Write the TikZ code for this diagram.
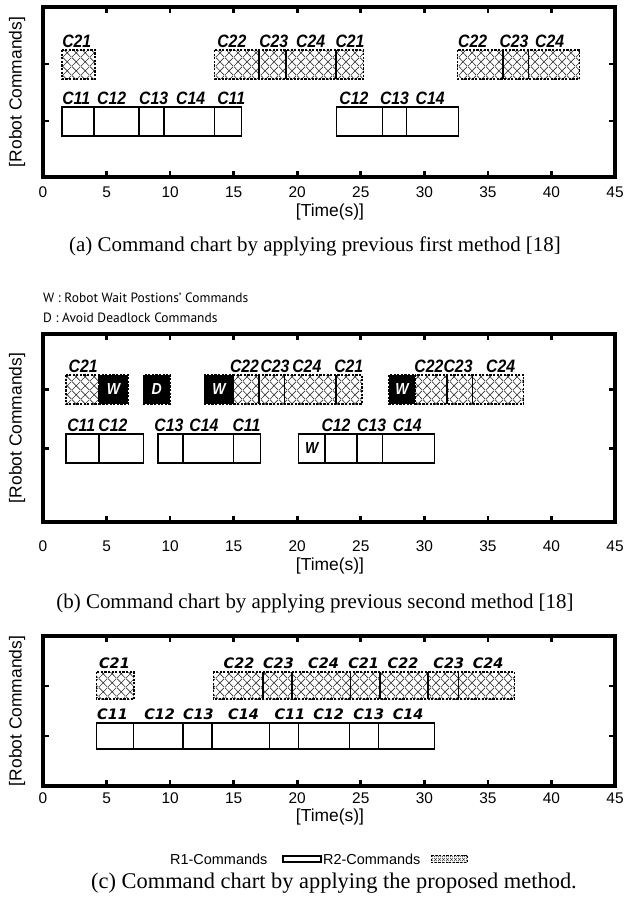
\documentclass[tikz,border=0pt]{standalone}
\usepackage{fontspec}
\setmainfont{Liberation Serif}
\setsansfont{Liberation Sans}
\newfontfamily\cmdfont[FakeStretch=0.88]{Liberation Sans}
\newfontfamily\newcmdfont{DejaVu Sans}
\newfontfamily\notefont{PT Sans}
\usepackage{tikz}
\usetikzlibrary{patterns}
% diagonal cross hatch of the R2 commands
\pgfdeclarepatternformonly{cmdhatch}{\pgfpointorigin}{\pgfqpoint{9bp}{9bp}}{\pgfqpoint{9bp}{9bp}}{%
  \pgfsetlinewidth{0.7bp}%
  \pgfpathmoveto{\pgfpointorigin}\pgfpathlineto{\pgfqpoint{9bp}{9bp}}%
  \pgfpathmoveto{\pgfqpoint{0bp}{9bp}}\pgfpathlineto{\pgfqpoint{9bp}{0bp}}%
  \pgfusepath{stroke}}
\pgfdeclarepatternformonly{smallhatch}{\pgfpointorigin}{\pgfqpoint{3.5bp}{3.5bp}}{\pgfqpoint{3.5bp}{3.5bp}}{%
  \pgfsetlinewidth{0.5bp}%
  \pgfpathmoveto{\pgfpointorigin}\pgfpathlineto{\pgfqpoint{3.5bp}{3.5bp}}%
  \pgfpathmoveto{\pgfqpoint{0bp}{3.5bp}}\pgfpathlineto{\pgfqpoint{3.5bp}{0bp}}%
  \pgfusepath{stroke}}
\tikzset{
  chartframe/.style={line width=3.2bp},
  tickmark/.style={line width=2.6bp},
  r1cell/.style={draw, line width=1.5bp, fill=white},
  r2cell/.style={draw, line width=1.3bp, dash pattern=on 2.2bp off 1.4bp,
    pattern=cmdhatch, pattern color=black!80},
  waitcell/.style={draw, line width=1.3bp, dash pattern=on 2.2bp off 1.4bp, fill=black},
  celldiv/.style={line width=1.5bp},
  cmdlabel/.style={anchor=base west, inner sep=0pt,
    font=\cmdfont\bfseries\itshape\fontsize{18}{18}\selectfont},
  newlabel/.style={anchor=base west, inner sep=0pt,
    font=\newcmdfont\bfseries\itshape\fontsize{14.5}{15}\selectfont},
  waitlabel/.style={inner sep=0pt, font=\cmdfont\bfseries\itshape\fontsize{16}{16}\selectfont},
  ticklabel/.style={inner sep=0pt, font=\sffamily\fontsize{15.5}{16}\selectfont},
  axistitle/.style={inner sep=0pt, font=\sffamily\fontsize{17.5}{18}\selectfont},
  captiontext/.style={inner sep=0pt, font=\fontsize{21}{22}\selectfont},
  notetext/.style={anchor=west, inner sep=0pt, font=\notefont\fontsize{13.5}{14}\selectfont},
  legendtext/.style={anchor=west, inner sep=0pt, font=\sffamily\fontsize{14.5}{15}\selectfont},
}
\begin{document}
\begin{tikzpicture}[x=1bp, y=-1bp]
  \useasboundingbox (0,0) rectangle (625,903);

  % ---- (a) previous first method
  \begin{scope}[x=12.711bp, xshift=43bp]
    \draw[chartframe] (0,7) rectangle (45,177);
    \foreach \t in {5,10,...,40} {
      \draw[tickmark] (\t,7) -- ++(0,6);
      \draw[tickmark] (\t,177) -- ++(0,-6);
    }
    \foreach \r in {64,121} {
      \draw[tickmark] (0,\r) -- ++(6bp,0);
      \draw[tickmark] (45,\r) -- ++(-6bp,0);
    }
    \foreach \t in {0,5,...,45}
      \node[ticklabel] (a-tick\t) at (\t,192) {\t};
    % robot 2
    \draw[r2cell] (1.5,50) rectangle (4.1,79);
    \draw[r2cell] (13.5,50) rectangle (25.2,79);
    \foreach \t in {17.0,19.1,23.05} \draw[celldiv] (\t,50) -- (\t,79);
    \draw[r2cell] (32.6,50) rectangle (42.2,79);
    \foreach \t in {36.2,38.2} \draw[celldiv] (\t,50) -- (\t,79);
    \node[cmdlabel] (a-c21) at (1.5,47) {C21};
    \node[cmdlabel] (a-c22) at (13.7,47) {C22};
    \node[cmdlabel] (a-c23) at (17.0,47) {C23};
    \node[cmdlabel] (a-c24) at (19.9,47) {C24};
    \node[cmdlabel] (a-c21b) at (23.0,47) {C21};
    \node[cmdlabel] (a-c22b) at (32.65,47) {C22};
    \node[cmdlabel] (a-c23b) at (35.9,47) {C23};
    \node[cmdlabel] (a-c24b) at (38.7,47) {C24};
    % robot 1
    \draw[r1cell] (1.5,107) rectangle (15.6,136);
    \foreach \t in {4.0,7.55,9.5,13.5} \draw[celldiv] (\t,107) -- (\t,136);
    \draw[r1cell] (23.1,107) rectangle (32.7,136);
    \foreach \t in {26.7,28.6} \draw[celldiv] (\t,107) -- (\t,136);
    \node[cmdlabel] (a-c11) at (1.5,104) {C11};
    \node[cmdlabel] (a-c12) at (4.25,104) {C12};
    \node[cmdlabel] (a-c13) at (7.55,104) {C13};
    \node[cmdlabel] (a-c14) at (10.46,104) {C14};
    \node[cmdlabel] (a-c11b) at (13.7,104) {C11};
    \node[cmdlabel] (a-c12b) at (23.3,104) {C12};
    \node[cmdlabel] (a-c13b) at (26.5,104) {C13};
    \node[cmdlabel] (a-c14b) at (29.3,104) {C14};
  \end{scope}
  \node[axistitle] (a-xlab) at (330,212) {[Time(s)]};
  \node[axistitle, rotate=90] (a-ylab) at (17,92) {[Robot Commands]};
  \node[captiontext] (a-cap) at (315,246) {(a) Command chart by applying previous first method [18]};

  % ---- (b) previous second method
  \node[notetext] (b-notew) at (43,298) {W : Robot Wait Postions’ Commands};
  \node[notetext] (b-noted) at (43,318) {D : Avoid Deadlock Commands};
  \begin{scope}[x=12.711bp, xshift=43bp]
    \draw[chartframe] (0,334) rectangle (45,522);
    \foreach \t in {5,10,...,40} {
      \draw[tickmark] (\t,334) -- ++(0,6);
      \draw[tickmark] (\t,522) -- ++(0,-6);
    }
    \foreach \r in {389.5,448.5} {
      \draw[tickmark] (0,\r) -- ++(6bp,0);
      \draw[tickmark] (45,\r) -- ++(-6bp,0);
    }
    \foreach \t in {0,5,...,45}
      \node[ticklabel] (b-tick\t) at (\t,546) {\t};
    % robot 2
    \draw[r2cell] (1.8,375) rectangle (4.4,404);
    \draw[waitcell] (4.4,375) rectangle (6.7,404);
    \draw[waitcell] (7.9,375) rectangle (10.0,404);
    \draw[waitcell] (12.7,375) rectangle (15.0,404);
    \draw[r2cell] (15.0,375) rectangle (25.1,404);
    \foreach \t in {17.0,19.0,23.05} \draw[celldiv] (\t,375) -- (\t,404);
    \draw[waitcell] (27.2,375) rectangle (29.3,404);
    \draw[r2cell] (29.3,375) rectangle (37.8,404);
    \foreach \t in {31.8,33.8} \draw[celldiv] (\t,375) -- (\t,404);
    \node[waitlabel, text=white] (b-w1) at (5.55,389.5) {W};
    \node[waitlabel, text=white] (b-d1) at (8.95,389.5) {D};
    \node[waitlabel, text=white] (b-w2) at (13.85,389.5) {W};
    \node[waitlabel, text=white] (b-w3) at (28.25,389.5) {W};
    \node[cmdlabel] (b-c21) at (2.0,372) {C21};
    \node[cmdlabel] (b-c22) at (14.7,372) {C22};
    \node[cmdlabel] (b-c23) at (17.1,372) {C23};
    \node[cmdlabel] (b-c24) at (19.6,372) {C24};
    \node[cmdlabel] (b-c21b) at (22.9,372) {C21};
    \node[cmdlabel] (b-c22b) at (29.2,372) {C22};
    \node[cmdlabel] (b-c23b) at (31.5,372) {C23};
    \node[cmdlabel] (b-c24b) at (34.85,372) {C24};
    % robot 1
    \draw[r1cell] (1.8,434) rectangle (7.9,463);
    \draw[celldiv] (4.4,434) -- (4.4,463);
    \draw[r1cell] (9.05,434) rectangle (17.1,463);
    \foreach \t in {11.0,15.0} \draw[celldiv] (\t,434) -- (\t,463);
    \draw[r1cell] (20.1,434) rectangle (30.8,463);
    \foreach \t in {22.2,24.7,26.7} \draw[celldiv] (\t,434) -- (\t,463);
    \node[waitlabel] (b-w4) at (21.15,448.5) {W};
    \node[cmdlabel] (b-c11) at (1.9,431) {C11};
    \node[cmdlabel] (b-c12) at (4.35,431) {C12};
    \node[cmdlabel] (b-c13) at (8.75,431) {C13};
    \node[cmdlabel] (b-c14) at (11.5,431) {C14};
    \node[cmdlabel] (b-c11b) at (14.9,431) {C11};
    \node[cmdlabel] (b-c12b) at (21.9,431) {C12};
    \node[cmdlabel] (b-c13b) at (24.7,431) {C13};
    \node[cmdlabel] (b-c14b) at (27.5,431) {C14};
  \end{scope}
  \node[axistitle] (b-xlab) at (330,566) {[Time(s)]};
  \node[axistitle, rotate=90] (b-ylab) at (17,428) {[Robot Commands]};
  \node[captiontext] (b-cap) at (315,603) {(b) Command chart by applying previous second method [18]};

  % ---- (c) proposed method
  \begin{scope}[x=12.711bp, xshift=43bp]
    \draw[chartframe] (0,636) rectangle (45,786);
    \foreach \t in {5,10,...,40} {
      \draw[tickmark] (\t,636) -- ++(0,6);
      \draw[tickmark] (\t,786) -- ++(0,-6);
    }
    \foreach \r in {686,736} {
      \draw[tickmark] (0,\r) -- ++(6bp,0);
      \draw[tickmark] (45,\r) -- ++(-6bp,0);
    }
    \foreach \t in {0,5,...,45}
      \node[ticklabel] (c-tick\t) at (\t,798) {\t};
    % robot 2
    \draw[r2cell] (4.2,672) rectangle (7.15,699);
    \draw[r2cell] (13.4,672) rectangle (37.1,699);
    \foreach \t in {17.3,19.6,24.2,26.5,30.3,32.7} \draw[celldiv] (\t,672) -- (\t,699);
    \node[newlabel] (c-c21) at (4.4,668) {C21};
    \node[newlabel] (c-c22) at (14.2,668) {C22};
    \node[newlabel] (c-c23) at (17.3,668) {C23};
    \node[newlabel] (c-c24) at (20.85,668) {C24};
    \node[newlabel] (c-c21b) at (24.0,668) {C21};
    \node[newlabel] (c-c22b) at (27.1,668) {C22};
    \node[newlabel] (c-c23b) at (30.7,668) {C23};
    \node[newlabel] (c-c24b) at (33.8,668) {C24};
    % robot 1
    \draw[r1cell] (4.2,723) rectangle (30.8,749);
    \foreach \t in {7.1,11.0,13.3,17.8,20.1,24.1,26.4} \draw[celldiv] (\t,723) -- (\t,749);
    \node[newlabel] (c-c11) at (4.25,719) {C11};
    \node[newlabel] (c-c12) at (7.95,719) {C12};
    \node[newlabel] (c-c13) at (11.0,719) {C13};
    \node[newlabel] (c-c14) at (14.55,719) {C14};
    \node[newlabel] (c-c11b) at (18.2,719) {C11};
    \node[newlabel] (c-c12b) at (21.25,719) {C12};
    \node[newlabel] (c-c13b) at (24.4,719) {C13};
    \node[newlabel] (c-c14b) at (27.5,719) {C14};
  \end{scope}
  \node[axistitle] (c-xlab) at (330,817) {[Time(s)]};
  \node[axistitle, rotate=90] (c-ylab) at (17,711) {[Robot Commands]};
  % legend
  \node[legendtext] (c-r1) at (170,859) {R1-Commands};
  \draw[r1cell, line width=1.3bp] (283,856) rectangle (321,862);
  \node[legendtext] (c-r2) at (323,859) {R2-Commands};
  \draw[r2cell, line width=0.8bp, pattern=smallhatch] (431,855) rectangle (467,862);
  \node[captiontext, font=\fontsize{22.5}{23}\selectfont] (c-cap) at (334,883) {(c) Command chart by applying the proposed method.};
\end{tikzpicture}
\end{document}
